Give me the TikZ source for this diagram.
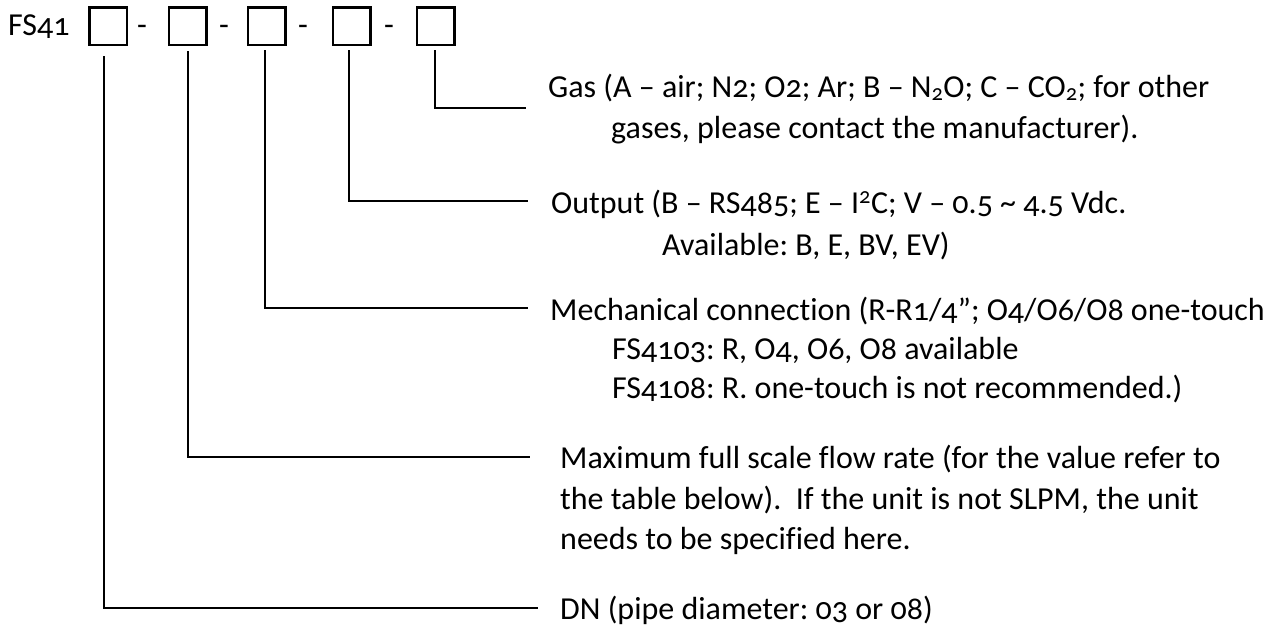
\documentclass[tikz,border=0pt]{standalone}
\usepackage{fontspec}
\setmainfont{Carlito}[Numbers=OldStyle,Ligatures=NoCommon]
\frenchspacing
\begin{document}
\begin{tikzpicture}[x=1pt,y=-1pt,
  slot/.style={draw,line width=2.5pt,minimum size=37.5pt,inner sep=0pt,outer sep=0pt},
  lead/.style={line width=2.5pt},
  txt/.style={anchor=base west,inner sep=0pt,font=\fontsize{32}{40}\selectfont},
  dsh/.style={anchor=base,inner sep=0pt,font=\fontsize{32}{40}\selectfont}]
\useasboundingbox (0,0) rectangle (1280,627);
\node[txt] (fs) at (8,35) {FS41};
\node[slot] (b1) at (108,26) {};
\node[slot] (b2) at (187.5,26) {};
\node[slot] (b3) at (266.5,26) {};
\node[slot] (b4) at (351.5,26) {};
\node[slot] (b5) at (435.5,26) {};
\node[dsh] (d1) at (142,35) {-};
\node[dsh] (d2) at (224,35) {-};
\node[dsh] (d3) at (303,35) {-};
\node[dsh] (d4) at (389,35) {-};
% leader start and end points
\coordinate (s5) at (435,50); \coordinate (e5) at (526,108);
\coordinate (s4) at (349,50); \coordinate (e4) at (528,201);
\coordinate (s3) at (265,50); \coordinate (e3) at (528,308);
\coordinate (s2) at (188,51); \coordinate (e2) at (530,457);
\coordinate (s1) at (104,56); \coordinate (e1) at (538,608);
\draw[lead] (s5) |- (e5);
\draw[lead] (s4) |- (e4);
\draw[lead] (s3) |- (e3);
\draw[lead] (s2) |- (e2);
\draw[lead] (s1) |- (e1);
% texts
\node[txt] (g1) at (548,97) {Gas (A -- air; N2; O2; Ar; B -- N\textsubscript{2}O; C -- CO\textsubscript{2}; for other};
\node[txt] (g2) at (611,138) {gases, please contact the manufacturer).};
\node[txt] (o1) at (551,213) {Output (B -- RS485; E -- I\textsuperscript{2}C; V -- 0.5 \textasciitilde{} 4.5 Vdc.};
\node[txt] (o2) at (662,255) {Available: B, E, BV, EV)};
\node[txt] (m1) at (550,320) {Mechanical connection (R-R1/4''; O4/O6/O8 one-touch};
\node[txt] (m2) at (612,359) {FS4103: R, O4, O6, O8 available};
\node[txt] (m3) at (612,398) {FS4108: R. one-touch is not recommended.)};
\node[txt] (x1) at (560,468) {Maximum full scale flow rate (for the value refer to};
\node[txt] (x2) at (560,509) {the table below).\ \ If the unit is not SLPM, the unit};
\node[txt] (x3) at (560,549) {needs to be specified here.};
\node[txt] (dn) at (560,619) {DN (pipe diameter: 03 or 08)};
\end{tikzpicture}
\end{document}
